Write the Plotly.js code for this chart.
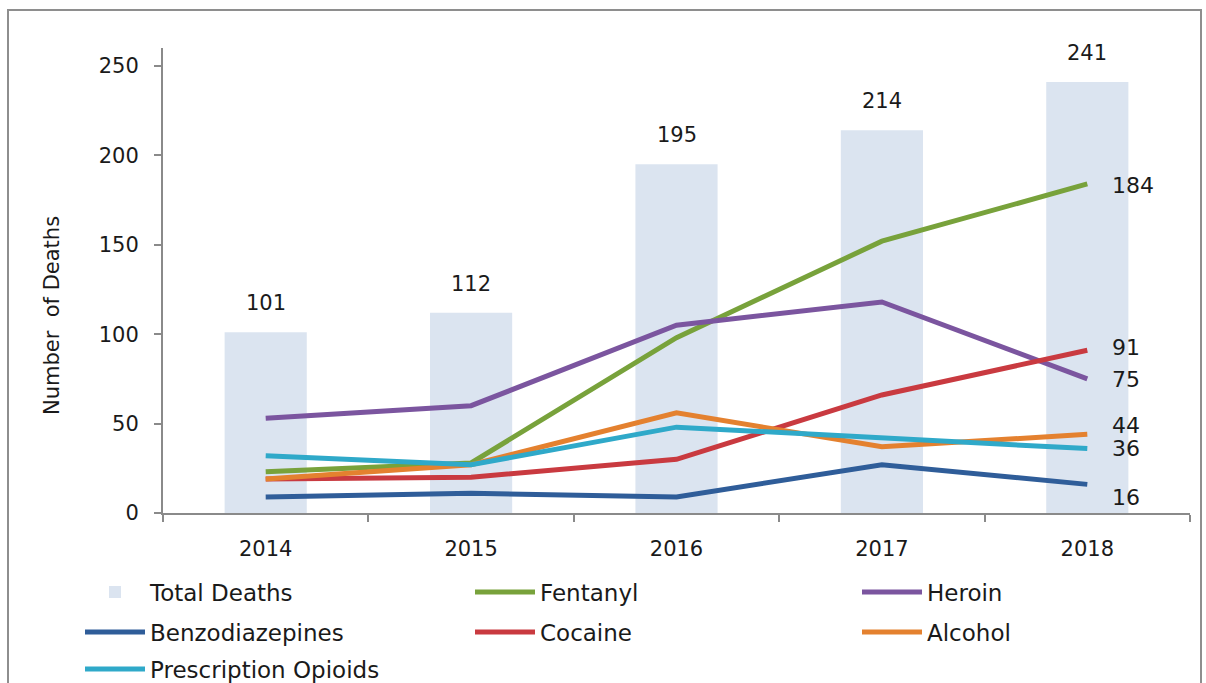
<!DOCTYPE html>
<html><head><meta charset="utf-8">
<script src="https://cdn.plot.ly/plotly-3.0.1.min.js"></script>
<style>
html,body{margin:0;padding:0;background:#fff;}
#wrap{position:relative;width:1206px;height:683px;overflow:hidden;}
#chart{position:absolute;left:0;top:0;width:1206px;height:683px;}
#frame{position:absolute;left:7px;top:9px;width:1191px;height:700px;border:2px solid #8e8e8e;border-bottom:none;pointer-events:none;}
</style></head>
<body><div id="wrap"><div id="chart"></div><div id="frame"></div></div>
<script>
const years = ['2014','2015','2016','2017','2018'];
const totalDeaths = [101,112,195,214,241];
const fentanyl = [23,28,98,152,184];
const heroin = [53,60,105,118,75];
const benzodiazepines = [9,11,9,27,16];
const cocaine = [19,20,30,66,91];
const alcohol = [19,27,56,37,44];
const prescriptionOpioids = [32,27,48,42,36];
const yTicks = [0,50,100,150,200,250];

const font = "'DejaVu Sans', Verdana, sans-serif";
const txt = '#1a1a1a';

const lines = [
  {name:'Fentanyl', y:fentanyl, color:'#78a23b', legend:'legend2', lblShift:-2},
  {name:'Heroin', y:heroin, color:'#7b559f', legend:'legend3', lblShift:-1},
  {name:'Benzodiazepines', y:benzodiazepines, color:'#2f5d99', legend:'legend4', lblShift:-13},
  {name:'Cocaine', y:cocaine, color:'#c93a40', legend:'legend5', lblShift:3},
  {name:'Alcohol', y:alcohol, color:'#e4812f', legend:'legend6', lblShift:9},
  {name:'Prescription Opioids', y:prescriptionOpioids, color:'#2fa9c9', legend:'legend7', lblShift:0}
];

const traces = [{
  type:'bar', x:years, y:totalDeaths, name:'Total Deaths', legend:'legend',
  marker:{color:'#dbe4f0'}, width:0.4
}];
lines.forEach(l => traces.push({
  type:'scatter', mode:'lines', x:years, y:l.y, name:l.name, legend:l.legend,
  line:{color:l.color, width:5}
}));

const annotations = [];
years.forEach((yr,i) => annotations.push({
  x:i, y:totalDeaths[i], xref:'x', yref:'y', text:String(totalDeaths[i]),
  showarrow:false, yshift:29, font:{family:font, size:21, color:txt}
}));
const last = years.length-1;
lines.forEach(l => annotations.push({
  x:last, y:l.y[last], xref:'x', yref:'y',
  text:String(l.y[last]), showarrow:false, xanchor:'left',
  xshift:23, yshift:l.lblShift, font:{family:font, size:22, color:txt}
}));
// y-axis title (placed like the reference, slightly below the plot centre)
annotations.push({
  xref:'paper', yref:'paper', x:(52-163)/1027, y:(513-316)/465,
  text:'Number  of Deaths', textangle:-90, showarrow:false,
  xanchor:'center', yanchor:'middle', font:{family:font, size:21, color:txt}
});

function legendAt(xPx, yPx){
  return {orientation:'h', xref:'container', yref:'container',
    x:xPx/1206, xanchor:'left', y:1-yPx/683, yanchor:'middle',
    traceorder:'normal', itemwidth:60, bgcolor:'rgba(0,0,0,0)',
    font:{family:font, size:23, color:txt}};
}
const colX = [80, 470, 857];
const rowY = [592, 632, 669];

const layout = {
  width:1206, height:683,
  margin:{l:163, r:16, t:48, b:170},
  paper_bgcolor:'#fff', plot_bgcolor:'#fff',
  font:{family:font, size:21, color:txt},
  showlegend:true,
  legend:legendAt(colX[0], rowY[0]),
  legend2:legendAt(colX[1], rowY[0]),
  legend3:legendAt(colX[2], rowY[0]),
  legend4:legendAt(colX[0], rowY[1]),
  legend5:legendAt(colX[1], rowY[1]),
  legend6:legendAt(colX[2], rowY[1]),
  legend7:legendAt(colX[0], rowY[2]),
  xaxis:{type:'category', range:[-0.5,4.5], tickson:'boundaries',
    showline:true, linecolor:'#8a8a8a', linewidth:2,
    ticks:'outside', ticklen:7, tickcolor:'#8a8a8a', tickwidth:2,
    ticklabelstandoff:16, tickfont:{family:font, size:21, color:txt},
    showgrid:false, zeroline:false, fixedrange:true},
  yaxis:{range:[0,260], tickvals:yTicks, ticktext:yTicks.map(String),
    showline:true, linecolor:'#8a8a8a', linewidth:2,
    ticks:'outside', ticklen:7, tickcolor:'#8a8a8a', tickwidth:2,
    ticklabelstandoff:11, tickfont:{family:font, size:21, color:txt},
    showgrid:false, zeroline:false, fixedrange:true},
  annotations:annotations
};

Plotly.newPlot('chart', traces, layout, {displayModeBar:false, staticPlot:true});
</script></body></html>
